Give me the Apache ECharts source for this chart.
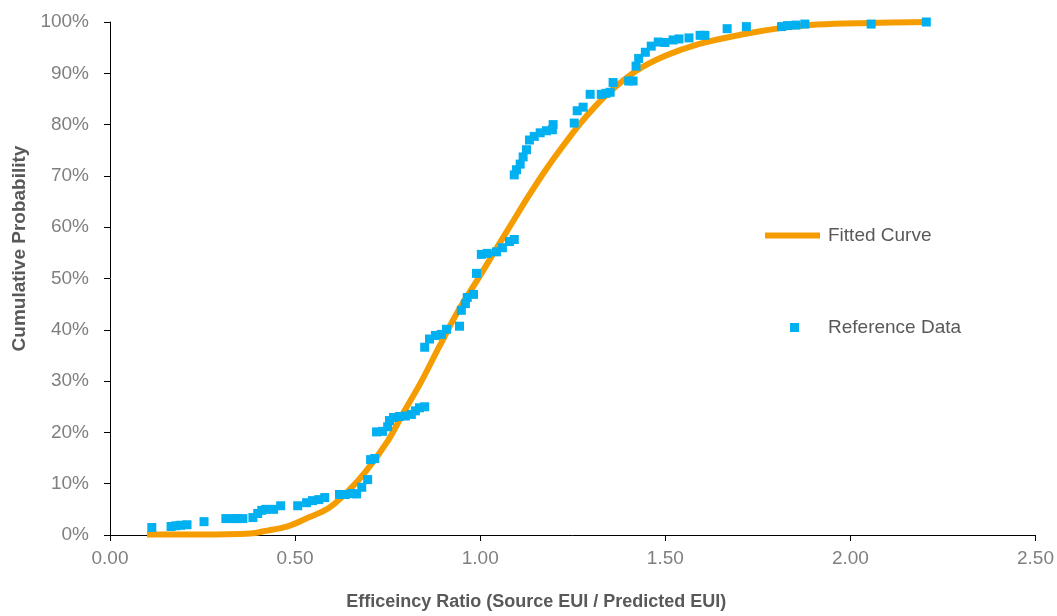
<!DOCTYPE html>
<html>
<head>
<meta charset="utf-8">
<script src="https://cdn.jsdelivr.net/npm/echarts@6/dist/echarts.min.js"></script>
<style>html,body{margin:0;padding:0;background:#fff}#c{width:1057px;height:616px}</style>
</head>
<body>
<div id="c"></div>
<script>
var xTicks = [0, 0.5, 1.0, 1.5, 2.0, 2.5];
var yTicks = [0, 10, 20, 30, 40, 50, 60, 70, 80, 90, 100];

var refX = [0.113,0.165,0.178,0.191,0.208,0.254,0.313,0.332,0.345,0.359,0.386,0.399,0.410,0.421,0.442,0.461,0.507,0.531,0.547,0.564,0.580,0.620,0.636,0.653,0.666,0.680,0.696,0.704,0.715,0.720,0.736,0.750,0.755,0.766,0.782,0.798,0.814,0.825,0.836,0.850,0.850,0.863,0.879,0.895,0.909,0.944,0.949,0.960,0.965,0.982,0.990,1.003,1.019,1.044,1.060,1.079,1.092,1.092,1.098,1.108,1.116,1.125,1.133,1.146,1.162,1.179,1.195,1.197,1.254,1.262,1.278,1.297,1.327,1.340,1.351,1.359,1.401,1.413,1.421,1.428,1.446,1.462,1.481,1.499,1.521,1.537,1.564,1.594,1.607,1.667,1.719,1.814,1.830,1.853,1.877,2.056,2.205];
var refY = [1.46,1.65,1.8,1.9,2.0,2.6,3.2,3.2,3.2,3.2,3.4,4.2,4.8,5.0,5.0,5.7,5.7,6.3,6.7,6.9,7.3,7.9,7.9,8.1,8.0,9.3,10.8,14.7,14.9,20.1,20.2,21.1,22.3,22.9,23.1,23.2,23.5,24.2,24.8,25.0,36.6,38.2,38.9,39.1,40.1,40.7,43.8,45.1,46.3,46.9,51.0,54.7,54.9,55.2,56.0,57.2,57.6,70.2,71.2,72.3,73.7,75.1,77.0,77.7,78.4,78.8,79.0,80.0,80.3,82.7,83.4,85.9,85.9,86.1,86.3,88.2,88.5,88.5,91.4,92.9,94.1,95.3,96.1,96.0,96.5,96.7,96.9,97.4,97.4,98.7,99.1,99.1,99.3,99.4,99.6,99.6,100.0];

var fitX = [0.10,0.24,0.38,0.42,0.48,0.53,0.59,0.64,0.69,0.75,0.79,0.84,0.89,0.94,1.00,1.04,1.09,1.13,1.18,1.22,1.27,1.31,1.35,1.42,1.50,1.59,1.71,1.82,1.91,2.05,2.21];
var fitY = [0.1,0.1,0.3,0.8,1.7,3.2,5.2,8.3,12.3,18.3,23.5,29.8,36.8,43.6,50.6,55.4,61.3,66.0,71.5,75.5,80.2,83.5,86.4,90.4,93.4,95.7,97.6,98.9,99.5,99.8,100.0];

var refData = refX.map(function(x,i){return [x, refY[i]];});
var fitData = fitX.map(function(x,i){return [x, fitY[i]];});

var chart = echarts.init(document.getElementById('c'), null, {renderer:'canvas'});
chart.setOption({
  animation: false,
  backgroundColor: '#fff',
  grid: {left: 110, right: 20, top: 22, bottom: 79, containLabel: false},
  legend: [
    {data: [{name: 'Fitted Curve', icon: 'rect'}], left: 760, top: 221, orient: 'vertical', itemWidth: 55, itemHeight: 6,
     textStyle: {fontFamily: 'Liberation Sans, Arial, sans-serif', fontSize: 19, color: '#595959', padding: [0,0,0,3]}},
    {data: [{name: 'Reference Data', icon: 'rect'}], left: 785, top: 313, orient: 'vertical', itemWidth: 9, itemHeight: 9,
     textStyle: {fontFamily: 'Liberation Sans, Arial, sans-serif', fontSize: 19, color: '#595959', padding: [0,0,0,24]}}
  ],
  xAxis: {
    type: 'value', min: 0, max: 2.5, interval: 0.5,
    name: 'Efficeincy Ratio (Source EUI / Predicted EUI)',
    nameLocation: 'middle', nameGap: 58,
    nameTextStyle: {fontFamily: 'Liberation Sans Narrow, Arial Narrow, Liberation Sans, sans-serif', fontWeight: 'bold', fontSize: 18, color: '#595959', padding: [0, 73, 0, 0]},
    axisLine: {show: true, lineStyle: {color: '#000', width: 1}},
    axisTick: {show: true, length: 6, lineStyle: {color: '#000'}},
    axisLabel: {margin: 14, fontFamily: 'Liberation Sans Narrow, Arial Narrow, Liberation Sans, sans-serif', fontSize: 19, color: '#7f7f7f',
      formatter: function(v){return v.toFixed(2);}},
    splitLine: {show: false}
  },
  yAxis: {
    type: 'value', min: 0, max: 100, interval: 10,
    name: 'Cumulative Probability',
    nameLocation: 'middle', nameGap: 80, nameRotate: 90,
    nameTextStyle: {fontFamily: 'Liberation Sans, Arial, sans-serif', fontWeight: 'bold', fontSize: 19, color: '#595959', padding: [0, 0, 0, 60]},
    axisLine: {show: true, lineStyle: {color: '#000', width: 1}},
    axisTick: {show: true, length: 6, lineStyle: {color: '#000'}},
    axisLabel: {margin: 21, fontFamily: 'Liberation Sans, Arial, sans-serif', fontSize: 19, color: '#7f7f7f',
      formatter: function(v){return v + '%';}},
    splitLine: {show: false}
  },
  series: [
    {name: 'Fitted Curve', type: 'line', data: fitData, smooth: 0.35, symbol: 'none',
     lineStyle: {color: '#F59C00', width: 6}, itemStyle: {color: '#F59C00'}, z: 2},
    {name: 'Reference Data', type: 'scatter', data: refData, symbol: 'rect', symbolSize: 9,
     itemStyle: {color: '#00B0F0', opacity: 1}, z: 3}
  ]
});
</script>
</body>
</html>
